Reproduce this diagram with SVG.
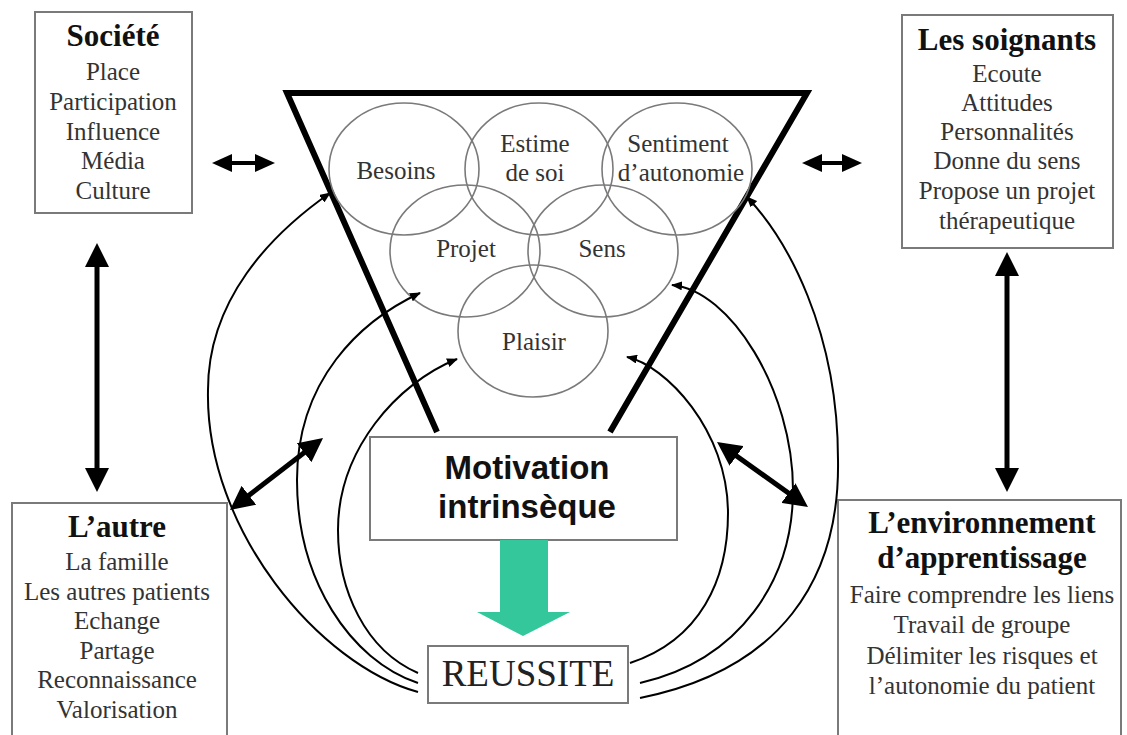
<svg xmlns="http://www.w3.org/2000/svg" width="1127" height="735" viewBox="0 0 1127 735">
<style>
.box{fill:#fff;stroke:#7a7a7a;stroke-width:2}
.circ{fill:none;stroke:#7a7a7a;stroke-width:1.6}
.t{font-family:'Liberation Serif','Times New Roman',serif;font-size:25px;fill:#333;text-anchor:middle}
.h{font-family:'Liberation Serif','Times New Roman',serif;font-size:31px;font-weight:bold;fill:#111;text-anchor:middle}
.m{font-family:'Liberation Sans',Arial,sans-serif;font-size:33px;font-weight:bold;fill:#111;text-anchor:middle}
.r{font-family:'Liberation Serif','Times New Roman',serif;font-size:37px;fill:#222;text-anchor:middle}
.curve{fill:none;stroke:#000;stroke-width:2;marker-end:url(#hs)}
.big{fill:none;stroke:#000;stroke-width:5;marker-start:url(#hb);marker-end:url(#hb)}
.sm{fill:none;stroke:#000;stroke-width:4;marker-start:url(#hm);marker-end:url(#hm)}
</style>
<defs>
<marker id="hs" markerUnits="userSpaceOnUse" viewBox="0 0 11 9" markerWidth="11" markerHeight="9" refX="10" refY="4.5" orient="auto"><path d="M0,0 L11,4.5 L0,9 z" fill="#000"/></marker>
<marker id="hb" markerUnits="userSpaceOnUse" viewBox="0 0 24 24" markerWidth="24" markerHeight="24" refX="18" refY="12" orient="auto-start-reverse"><path d="M0,0 L24,12 L0,24 z" fill="#000"/></marker>
<marker id="hm" markerUnits="userSpaceOnUse" viewBox="0 0 20 18" markerWidth="20" markerHeight="18" refX="15" refY="9" orient="auto-start-reverse"><path d="M0,0 L20,9 L0,18 z" fill="#000"/></marker>
</defs>
<rect width="1127" height="735" fill="#fff"/>

<g id="funnel">
<polyline points="437,432 287,93 807,93 610,432" fill="none" stroke="#000" stroke-width="6" stroke-linejoin="miter"/>
</g>

<g id="circles">
<g id="besoins"><ellipse class="circ" cx="404" cy="169" rx="75" ry="66"/><text class="t" x="396" y="179">Besoins</text></g>
<g id="estime"><ellipse class="circ" cx="539" cy="169" rx="74" ry="66"/><text class="t" x="535" y="152">Estime</text><text class="t" x="535" y="181">de soi</text></g>
<g id="sentiment"><ellipse class="circ" cx="677" cy="169" rx="75" ry="66"/><text class="t" x="678" y="152">Sentiment</text><text class="t" x="681" y="181">d’autonomie</text></g>
<g id="projet"><ellipse class="circ" cx="465" cy="251" rx="75" ry="66"/><text class="t" x="466" y="257">Projet</text></g>
<g id="sens"><ellipse class="circ" cx="603" cy="251" rx="75" ry="66"/><text class="t" x="602" y="257">Sens</text></g>
<g id="plaisir"><ellipse class="circ" cx="533" cy="331" rx="75" ry="66"/><text class="t" x="534" y="350">Plaisir</text></g>
</g>

<g id="societe">
<rect class="box" x="35" y="12" width="157" height="201"/>
<text class="h" x="113" y="46">Société</text>
<text class="t" x="113" y="80">Place</text>
<text class="t" x="113" y="110">Participation</text>
<text class="t" x="113" y="140">Influence</text>
<text class="t" x="113" y="169">Média</text>
<text class="t" x="113" y="199">Culture</text>
</g>

<g id="soignants">
<rect class="box" x="902" y="15" width="211" height="233"/>
<text class="h" x="1007" y="50">Les soignants</text>
<text class="t" x="1007" y="82">Ecoute</text>
<text class="t" x="1007" y="111">Attitudes</text>
<text class="t" x="1007" y="140">Personnalités</text>
<text class="t" x="1007" y="169">Donne du sens</text>
<text class="t" x="1007" y="199">Propose un projet</text>
<text class="t" x="1007" y="229">thérapeutique</text>
</g>

<g id="autre">
<rect class="box" x="12" y="503" width="215" height="240"/>
<text class="h" x="117" y="537">L’autre</text>
<text class="t" x="117" y="570">La famille</text>
<text class="t" x="117" y="600">Les autres patients</text>
<text class="t" x="117" y="629">Echange</text>
<text class="t" x="117" y="659">Partage</text>
<text class="t" x="117" y="688">Reconnaissance</text>
<text class="t" x="117" y="718">Valorisation</text>
</g>

<g id="environnement">
<rect class="box" x="838" y="500" width="283" height="240"/>
<text class="h" x="982" y="533">L’environnement</text>
<text class="h" x="982" y="568">d’apprentissage</text>
<text class="t" x="982" y="603">Faire comprendre les liens</text>
<text class="t" x="982" y="633">Travail de groupe</text>
<text class="t" x="982" y="664">Délimiter les risques et</text>
<text class="t" x="982" y="694">l’autonomie du patient</text>
</g>

<g id="motivation">
<rect class="box" x="370" y="437" width="307" height="103"/>
<text class="m" x="527" y="479">Motivation</text>
<text class="m" x="527" y="518">intrinsèque</text>
</g>

<g id="reussite">
<rect class="box" x="428" y="646" width="200" height="57"/>
<text class="r" x="528" y="686">REUSSITE</text>
</g>

<g id="connectors">
<polygon id="green-arrow" points="500,540 548,540 548,612 570,612 523,636 477,612 500,612" fill="#33c79b"/>
<path class="curve" d="M418,692 C320,665 205,530 208,390 C208,300 270,235 330,193"/>
<path class="curve" d="M418,683 C350,660 297,580 297,480 C297,380 360,321 420,293"/>
<path class="curve" d="M418,673 C365,650 338,590 338,530 C338,450 397,383 457,359"/>
<path class="curve" d="M640,698 C780,670 840,580 838,460 C838,330 787,239 747,197"/>
<path class="curve" d="M640,683 C740,660 793,580 793,490 C793,390 730,290 672,285"/>
<path class="curve" d="M630,663 C700,640 728,580 728,513 C728,430 665,365 627,357"/>
<path class="sm" d="M217,163 L270,163"/>
<path class="sm" d="M807,163 L857,163"/>
<path class="big" d="M97,249 L97,486"/>
<path class="big" d="M1007,258 L1007,486"/>
<path class="big" d="M234.7,506.3 L318.3,441.7"/>
<path class="big" d="M721.9,445.5 L803.1,503.5"/>
</g>
</svg>
